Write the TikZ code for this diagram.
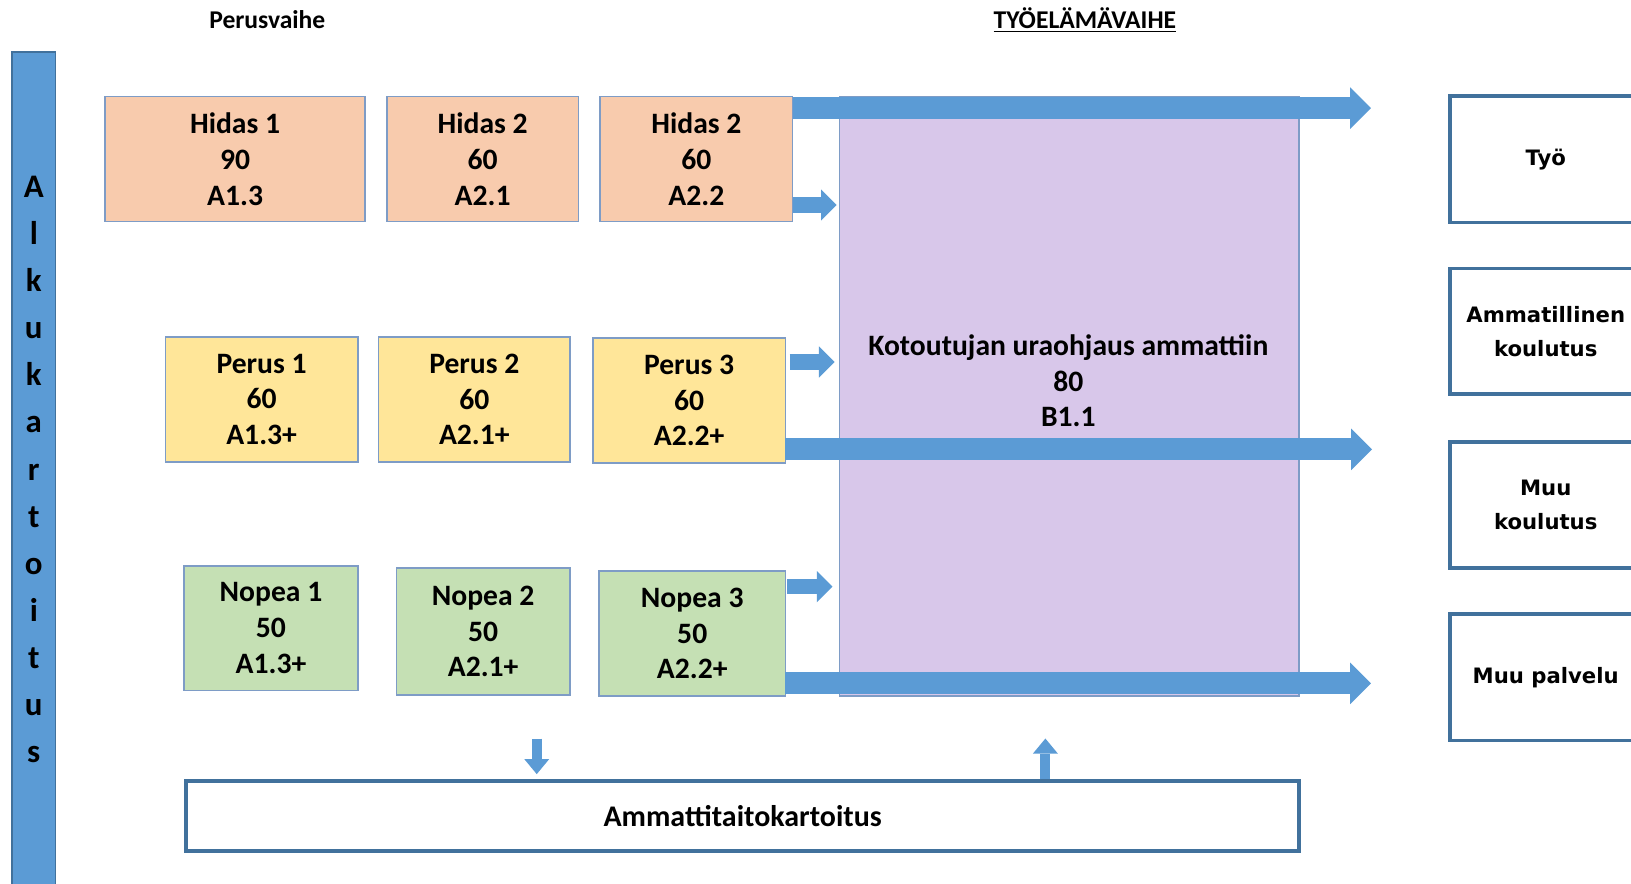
\documentclass[tikz,border=0pt]{standalone}
\usepackage{fontspec}
\setmainfont{Carlito}
\newfontfamily\outfont{DejaVu Sans}
\usetikzlibrary{arrows.meta}

\definecolor{hidasfill}{HTML}{F8CBAD}
\definecolor{perusfill}{HTML}{FFE699}
\definecolor{nopeafill}{HTML}{C5E0B4}
\definecolor{kotofill}{HTML}{D8C7EA}
\definecolor{barblue}{HTML}{5B9BD5}
\definecolor{darkblue}{HTML}{41719C}
\definecolor{thinblue}{HTML}{7E9CC6}

\tikzset{
  level/.style={draw=thinblue,line width=0.8pt,inner sep=0pt,outer sep=0pt,
    minimum height=2.4cm,align=center,font=\bfseries\fontsize{16.2}{19.6}\selectfont},
  outcome/.style={draw=darkblue,line width=2pt,inner sep=0pt,outer sep=0pt,
    minimum width=3.68cm,minimum height=2.42cm,align=center,
    font=\outfont\bfseries\fontsize{11.6}{18.8}\selectfont},
  barletter/.style={anchor=base,inner sep=0pt,font=\bfseries\fontsize{18}{20}\selectfont},
  phase/.style={inner sep=0pt,font=\bfseries\fontsize{14}{16}\selectfont},
  bigarrow/.style={barblue,line width=0.42cm,-{Triangle[width=0.8cm,length=0.4cm,line width=0pt]}},
  smallarrow/.style={barblue,line width=0.3cm,-{Triangle[width=0.6cm,length=0.3cm,line width=0pt]}},
  tinyarrow/.style={barblue,line width=0.19cm,-{Triangle[width=0.48cm,length=0.29cm,line width=0pt]}}
}

\begin{document}
\begin{tikzpicture}

      \useasboundingbox (0,0) rectangle (31.36,-16.98);
      \clip (0,0) rectangle (31.36,-16.98);

      % headings
      \node[phase] (perus) at (5.14,-0.38) {Perusvaihe};
      \node[phase] (tyoel) at (20.86,-0.38) {\underline{TYÖELÄMÄVAIHE}};

      % alkukartoitus bar
      \node[draw=darkblue,fill=barblue,line width=0.6pt,inner sep=0pt,
            minimum width=0.84cm,minimum height=16.4cm] (bar) at (0.65,-9.2) {};
      \foreach \ch [count=\i from 0] in {A,l,k,u,k,a,r,t,o,i,t,u,s}
        \node[barletter] (al\i) at (0.65,{-3.80-0.905*\i}) {\ch};

      % perusvaihe
      \node[level,fill=hidasfill,minimum width=5cm] (h1) at (4.52,-3.06) {Hidas 1\\90\\A1.3};
      \node[level,fill=hidasfill,minimum width=3.68cm] (h2) at (9.28,-3.06) {Hidas 2\\60\\A2.1};
      \node[level,fill=hidasfill,minimum width=3.7cm] (h3) at (13.39,-3.06) {Hidas 2\\60\\A2.2};

      \node[level,fill=perusfill,minimum width=3.7cm] (p1) at (5.03,-7.68) {Perus 1\\60\\A1.3+};
      \node[level,fill=perusfill,minimum width=3.68cm] (p2) at (9.12,-7.68) {Perus 2\\60\\A2.1+};
      \node[level,fill=perusfill,minimum width=3.7cm] (p3) at (13.25,-7.70) {Perus 3\\60\\A2.2+};

      \node[level,fill=nopeafill,minimum width=3.34cm] (n1) at (5.21,-12.08) {Nopea 1\\50\\A1.3+};
      \node[level,fill=nopeafill,minimum width=3.34cm,minimum height=2.44cm] (n2) at (9.29,-12.14) {Nopea 2\\50\\A2.1+};
      \node[level,fill=nopeafill,minimum width=3.58cm] (n3) at (13.31,-12.18) {Nopea 3\\50\\A2.2+};

      % tyoelamavaihe
      \node[draw=thinblue,fill=kotofill,line width=0.8pt,inner sep=0pt,
            minimum width=8.84cm,minimum height=11.52cm] (kot) at (20.56,-7.62) {};
      \node[level,draw=none,minimum height=0pt] (kottxt) at (20.54,-7.32)
        {Kotoutujan uraohjaus ammattiin\\80\\B1.1};

      % jatkopolut
      \node[outcome,minimum height=2.44cm] (tyo) at (29.72,-3.06) {Työ};
      \node[outcome] (ammk) at (29.72,-6.37) {Ammatillinen\\koulutus};
      \node[outcome] (muuk) at (29.72,-9.71) {Muu\\koulutus};
      \node[outcome,minimum height=2.44cm] (muup) at (29.72,-13.02) {Muu palvelu};

      \node[draw=darkblue,line width=2pt,inner sep=0pt,minimum width=21.4cm,minimum height=1.34cm,
            font=\bfseries\fontsize{16.4}{19.6}\selectfont] (kart) at (14.28,-15.69) {Ammattitaitokartoitus};

      \coordinate (toTyo) at (26.36,-2.08);
      \coordinate (toAmm) at (26.38,-8.64);
      \coordinate (toMuu) at (26.36,-13.14);
      \coordinate (dn) at (10.32,-14.20);
      \coordinate (up) at (20.10,-14.20);

      \draw[bigarrow] (h3.east |- toTyo) -- (toTyo);
      \draw[bigarrow] (p3.east |- toAmm) -- (toAmm);
      \draw[bigarrow] (n3.east |- toMuu) -- (toMuu);

      \draw[smallarrow,shorten >=0.04cm] (h3.east |- 0,-3.94) -- (kot.west |- 0,-3.94);
      \draw[smallarrow,shorten >=0.08cm] ([xshift=0.08cm]p3.east |- 0,-6.96) -- (kot.west |- 0,-6.96);
      \draw[smallarrow,shorten >=0.12cm] ([xshift=0.04cm]n3.east |- 0,-11.28) -- (kot.west |- 0,-11.28);

      \draw[tinyarrow,shorten >=0.1cm] (dn) -- (dn |- kart.north);
      \draw[tinyarrow] (up |- kart.north) -- (up);
    \end{tikzpicture}
\end{document}
